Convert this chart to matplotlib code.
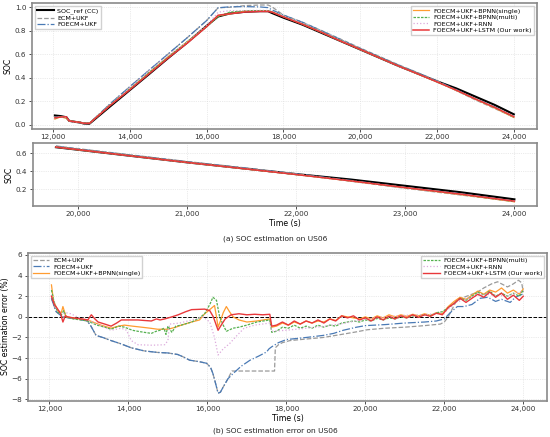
import numpy as np
import matplotlib
matplotlib.use("Agg")
import matplotlib.pyplot as plt
from matplotlib.ticker import FuncFormatter

# ---- SOC curves (a) ----
t_soc = [12050, 12200, 12350, 12420, 12500, 12700, 12800, 12950, 13500, 14000,
         14500, 15000, 15500, 16000, 16300, 16600, 17000, 17400, 17600, 17700,
         18000, 18500, 19000, 19500, 19800, 20000, 20500, 21000, 21500, 22000,
         22500, 23000, 23500, 24000]
soc_ref = [0.08, 0.075, 0.065, 0.035, 0.03, 0.02, 0.012, 0.01, 0.16, 0.295,
           0.43, 0.567, 0.70, 0.84, 0.92, 0.945, 0.96, 0.965, 0.965, 0.95,
           0.91, 0.85, 0.78, 0.71, 0.668, 0.64, 0.57, 0.50, 0.435, 0.37,
           0.31, 0.24, 0.17, 0.09]
soc_ecm = [0.062, 0.071, 0.065, 0.035, 0.031, 0.022, 0.015, 0.014, 0.182, 0.324,
           0.4635, 0.602, 0.741, 0.885, 0.994, 0.998, 1.0125, 1.0175, 1.0175, 1.0025,
           0.9325, 0.8715, 0.7995, 0.7265, 0.6825, 0.6525, 0.581, 0.51, 0.4435, 0.375,
           0.291, 0.212, 0.139, 0.066]
soc_foecm = [0.062, 0.071, 0.065, 0.035, 0.031, 0.022, 0.015, 0.014, 0.182, 0.324,
             0.4635, 0.602, 0.741, 0.885, 0.994, 1.002, 1.004, 1.001, 0.995, 0.977,
             0.932, 0.87, 0.7975, 0.723, 0.678, 0.6485, 0.5775, 0.506, 0.44, 0.372,
             0.30, 0.2215, 0.1535, 0.068]
soc_bpnn_s = [0.049, 0.069, 0.055, 0.035, 0.0305, 0.0215, 0.014, 0.013, 0.17, 0.3035,
              0.441, 0.579, 0.706, 0.835, 0.925, 0.942, 0.965, 0.968, 0.967, 0.959,
              0.918, 0.854, 0.784, 0.71, 0.6695, 0.64, 0.57, 0.499, 0.432, 0.365,
              0.293, 0.218, 0.144, 0.063]
soc_bpnn_m = [0.054, 0.07, 0.059, 0.035, 0.031, 0.0225, 0.015, 0.014, 0.171, 0.306,
              0.4455, 0.576, 0.706, 0.832, 0.919, 0.957, 0.968, 0.969, 0.968, 0.964,
              0.92, 0.859, 0.789, 0.715, 0.6725, 0.643, 0.572, 0.5005, 0.433, 0.364,
              0.294, 0.219, 0.148, 0.064]
soc_rnn = [0.059, 0.067, 0.0615, 0.031, 0.027, 0.02, 0.013, 0.013, 0.172, 0.313,
           0.4575, 0.59, 0.704, 0.843, 0.956, 0.97, 0.97, 0.972, 0.971, 0.964,
           0.923, 0.861, 0.789, 0.716, 0.672, 0.642, 0.57, 0.4985, 0.433, 0.366,
           0.293, 0.218, 0.149, 0.065]
soc_lstm = [0.06, 0.067, 0.069, 0.034, 0.03, 0.0215, 0.014, 0.013, 0.168, 0.298,
            0.4335, 0.568, 0.6945, 0.833, 0.931, 0.943, 0.958, 0.963, 0.9625, 0.958,
            0.917, 0.854, 0.785, 0.71, 0.67, 0.642, 0.57, 0.50, 0.433, 0.365,
            0.295, 0.22, 0.149, 0.07]

# ---- SOC estimation error (b), % ----
t_foecm = [12050, 12120, 12170, 12330, 12500, 12700, 12960, 13050, 13180, 13350,
           13560, 13800, 14070, 14400, 14740, 15000, 15250, 15400, 15550, 15800,
           15980, 16080, 16140, 16210, 16270, 16330, 16400, 16520, 16650, 16850,
           17080, 17300, 17500, 17560, 17630, 17800, 18000, 18500, 18930, 19200,
           19440, 19780, 20000, 20500, 21000, 21500, 21800, 22000, 22150, 22330,
           22500, 22700, 22910, 23100, 23300, 23450, 23670, 23800, 23980]
err_foecm = [1.8, 1.0, 0.5, 0.0, -0.1, -0.2, -0.4, -0.9, -1.8, -2.0,
             -2.3, -2.6, -3.0, -3.3, -3.45, -3.5, -3.65, -3.9, -4.2, -4.35,
             -4.5, -4.9, -5.5, -6.5, -7.4, -7.3, -6.8, -6.0, -5.5, -4.8,
             -4.2, -3.8, -3.4, -3.1, -2.9, -2.5, -2.2, -2.0, -1.8, -1.6,
             -1.3, -1.0, -0.85, -0.75, -0.6, -0.5, -0.4, -0.2, 0.4, 1.0,
             1.0, 1.2, 1.8, 1.9, 1.5, 1.7, 1.4, 1.9, 2.2]

t_ecm = [12050, 12120, 12170, 12330, 12500, 12700, 12960, 13050, 13180, 13350,
         13560, 13800, 14070, 14400, 14740, 15000, 15250, 15400, 15550, 15800,
         15980, 16080, 16140, 16210, 16270, 16330, 16400, 16520, 16620, 17700,
         17720, 17800, 17900, 18090, 18500, 18930, 19400, 19780, 20050, 20500,
         21000, 21500, 21900, 22000, 22100, 22300, 22500, 22840, 23000, 23200,
         23350, 23600, 23750, 23880, 23960, 24000]
err_ecm = [1.8, 1.0, 0.5, 0.0, -0.1, -0.2, -0.4, -0.9, -1.8, -2.0,
           -2.3, -2.6, -3.0, -3.3, -3.45, -3.5, -3.65, -3.9, -4.2, -4.35,
           -4.5, -4.9, -5.5, -6.5, -7.4, -7.3, -6.8, -6.0, -5.25, -5.25,
           -3.0, -2.7, -2.5, -2.3, -2.15, -2.0, -1.7, -1.45, -1.25, -1.1,
           -1.0, -0.85, -0.7, -0.5, 0.0, 1.5, 1.9, 2.4, 2.8, 3.2,
           3.4, 2.9, 3.2, 3.55, 3.3, 2.4]

t_rnn = [12050, 12150, 12300, 12420, 12540, 12700, 12970, 13150, 13320, 13560,
         13820, 13950, 14070, 14240, 14600, 14920, 15000, 15040, 15300, 15600,
         15890, 16060, 16180, 16270, 16400, 16560, 16750, 16930, 17200, 17580,
         17630, 18000, 18500, 19000, 19500, 20000, 20500, 21000, 21500, 22000,
         22300, 22600, 23000, 23300, 23600, 23800, 24000]
err_rnn = [2.1, 1.0, 0.3, 0.4, 0.3, 0.0, -0.3, -0.6, -0.9, -1.3,
           -1.1, -1.3, -2.3, -2.7, -2.75, -2.7, -2.3, -0.7, -0.6, -0.3,
           0.0, -0.5, -2.0, -3.7, -3.1, -2.6, -1.8, -1.1, -0.8, -0.6,
           -1.4, -1.3, -1.1, -0.9, -0.6, -0.2, 0.0, 0.15, 0.2, 0.4,
           1.4, 1.8, 2.2, 2.1, 2.0, 2.3, 2.5]

t_head_lstm = [12050, 12120, 12200, 12280, 12340, 12400, 12460, 12600, 12800, 12970,
               13060, 13150, 13230, 13400, 13560, 13700, 13820, 14000, 14240, 14400,
               14580, 14710, 14800, 14920, 15100, 15260, 15450, 15600, 15930, 16060,
               16150, 16270, 16350, 16450, 16600, 16800, 17000, 17200, 17400, 17580,
               17630]
err_head_lstm = [2.0, 1.2, 0.8, 0.3, -0.5, 0.1, 0.0, -0.1, -0.2, -0.3,
                 0.2, -0.2, -0.5, -0.7, -0.9, -0.6, -0.3, -0.3, -0.3, -0.35,
                 -0.4, -0.2, -0.3, -0.2, 0.0, 0.2, 0.5, 0.7, 0.75, 0.6,
                 0.0, -1.3, -0.8, -0.2, 0.2, 0.3, 0.2, 0.25, 0.2, 0.25,
                 -0.9]

t_head_bpnn_s = [12050, 12100, 12210, 12300, 12340, 12420, 12600, 12800, 12970, 13100,
                 13300, 13560, 13750, 13900, 14100, 14330, 14550, 14740, 15000, 15200,
                 15340, 15600, 15800, 15930, 16060, 16180, 16230, 16270, 16330, 16400,
                 16480, 16560, 16650, 16800, 17000, 17250, 17580, 17630]
err_head_bpnn_s = [3.1, 1.6, 0.6, 0.4, 1.0, 0.0, -0.1, -0.2, -0.3, -0.5,
                   -0.8, -1.1, -0.9, -0.8, -0.9, -1.0, -1.1, -1.2, -1.2, -1.0,
                   -0.8, -0.5, -0.3, 0.3, 0.7, 1.1, 0.0, -1.0, -0.4, 0.4,
                   1.0, 0.5, 0.0, -0.3, -0.5, -0.4, -0.2, -1.0]

t_head_bpnn_m = [12050, 12120, 12200, 12300, 12360, 12420, 12600, 12800, 12970, 13200,
                 13400, 13560, 13750, 13900, 14100, 14240, 14400, 14580, 14700, 14800,
                 14900, 14950, 15000, 15100, 15200, 15340, 15600, 15800, 15930, 16060,
                 16140, 16230, 16310, 16400, 16480, 16650, 16800, 17000, 17250, 17580,
                 17630]
err_head_bpnn_m = [2.6, 1.4, 0.5, 0.2, 0.6, 0.0, -0.2, -0.3, -0.4, -0.8,
                   -1.0, -1.2, -0.9, -1.0, -1.3, -1.4, -1.5, -1.6, -1.4, -1.3,
                   -1.1, -1.7, -0.9, -1.5, -0.9, -0.8, -0.5, -0.1, 0.3, 1.2,
                   1.9, 1.6, 0.0, -0.8, -1.4, -1.1, -1.0, -0.8, -0.5, -0.3,
                   -1.5]

t_tail = [17750, 17900, 18050, 18200, 18350, 18500, 18650, 18800, 18950, 19100,
          19250, 19400, 19550, 19700, 19850, 20000, 20150, 20300, 20450, 20600,
          20750, 20900, 21050, 21200, 21350, 21500, 21650, 21800, 21950, 22100,
          22250, 22400, 22550, 22700, 22850, 23000, 23150, 23300, 23450, 23600,
          23750, 23900, 24000]
err_tail_lstm = [-0.8, -0.5, -0.8, -0.4, -0.7, -0.4, -0.6, -0.3, -0.6, -0.2,
                 -0.4, 0.1, -0.1, 0.1, -0.3, -0.1, -0.4, 0.0, -0.3, 0.05,
                 -0.2, 0.1, -0.1, 0.2, -0.05, 0.2, 0.05, 0.35, 0.2, 0.9,
                 1.3, 1.8, 1.4, 1.8, 2.2, 1.9, 2.4, 1.9, 2.3, 1.7,
                 2.1, 1.6, 2.0]
err_tail_bpnn_s = [-0.9, -0.6, -0.8, -0.5, -0.7, -0.4, -0.6, -0.4, -0.5, -0.2,
                   -0.35, 0.1, 0.0, -0.1, -0.2, 0.0, -0.2, 0.1, -0.1, 0.2,
                   0.0, 0.2, 0.05, 0.25, 0.1, 0.3, 0.15, 0.4, 0.3, 1.0,
                   1.5, 1.9, 1.7, 2.1, 2.5, 2.2, 2.6, 2.4, 2.8, 2.3,
                   2.6, 2.2, 2.7]
err_tail_bpnn_m = [-1.4, -1.0, -1.1, -0.8, -1.1, -0.9, -1.1, -0.8, -1.0, -0.8,
                   -0.9, -0.6, -0.5, -0.4, -0.5, -0.3, -0.4, -0.15, -0.3, -0.1,
                   -0.2, 0.0, -0.1, 0.1, 0.0, 0.2, 0.1, 0.4, 0.5, 0.9,
                   1.3, 1.8, 1.6, 2.0, 2.4, 2.1, 2.5, 2.0, 2.3, 2.0,
                   2.3, 2.0, 2.6]

c_ref = "black"
c_ecm = "#9a9a9a"
c_foecm = "#4a7ab5"
c_bs = "#ff9c30"
c_bm = "#55b04f"
c_rnn = "#dcaadc"
c_lstm = "#e8383b"
spine_c = "#8a8a8a"

plt.rcParams['font.family'] = ['DejaVu Sans']
fig = plt.figure(figsize=(5.5, 4.37), dpi=100)
ax1 = fig.add_axes([0.058, 0.705, 0.918, 0.288])
ax2 = fig.add_axes([0.060, 0.529, 0.917, 0.143])
ax3 = fig.add_axes([0.050, 0.083, 0.945, 0.339])

thousands = FuncFormatter(lambda v, p: f"{v:,.0f}")


def style(ax):
    for s in ax.spines.values():
        s.set_color(spine_c)
        s.set_linewidth(1.2)
    ax.tick_params(labelsize=5.2, length=2.5, width=0.6, colors="#333333", pad=1.5)
    ax.grid(True, color="#d8d8d8", lw=0.5, ls=":")
    ax.set_axisbelow(True)
    ax.xaxis.set_major_formatter(thousands)


def soc_lines(ax, i0=0):
    ax.plot(t_soc[i0:], soc_ref[i0:], color=c_ref, lw=1.5, label="SOC_ref (CC)")
    ax.plot(t_soc[i0:], soc_ecm[i0:], color=c_ecm, lw=0.9, ls="--", label="ECM+UKF")
    ax.plot(t_soc[i0:], soc_foecm[i0:], color=c_foecm, lw=0.9, ls="-.", label="FOECM+UKF")
    ax.plot(t_soc[i0:], soc_bpnn_s[i0:], color=c_bs, lw=0.9, label="FOECM+UKF+BPNN(single)")
    ax.plot(t_soc[i0:], soc_bpnn_m[i0:], color=c_bm, lw=0.9, ls=(0, (2, 1)), label="FOECM+UKF+BPNN(multi)")
    ax.plot(t_soc[i0:], soc_rnn[i0:], color=c_rnn, lw=0.9, ls=":", label="FOECM+UKF+RNN")
    ax.plot(t_soc[i0:], soc_lstm[i0:], color=c_lstm, lw=1.1, label="FOECM+UKF+LSTM (Our work)")


# (a) full range
soc_lines(ax1)
style(ax1)
ax1.set_xlim(11452, 24598)
ax1.set_ylim(-0.034, 1.034)
ax1.set_xticks([12000, 14000, 16000, 18000, 20000, 22000, 24000])
ax1.set_yticks([0.0, 0.2, 0.4, 0.6, 0.8, 1.0])
ax1.set_ylabel("SOC", fontsize=5.6, labelpad=2)
h, l = ax1.get_legend_handles_labels()
leg_kw = dict(fontsize=4.6, framealpha=0.9, edgecolor="#cccccc", handlelength=2.6,
              borderpad=0.3, labelspacing=0.15, handletextpad=0.6, fancybox=False)
lg1 = ax1.legend(h[:3], l[:3], loc="upper left", **leg_kw)
ax1.add_artist(lg1)
ax1.legend(h[3:], l[3:], loc="upper right", **leg_kw)

# (a) zoomed discharge
i0 = t_soc.index(19800)
soc_lines(ax2, i0)
style(ax2)
ax2.set_xlim(19590, 24210)
ax2.set_ylim(0.018, 0.711)
ax2.set_xticks([20000, 21000, 22000, 23000, 24000])
ax2.set_yticks([0.2, 0.4, 0.6])
ax2.set_ylabel("SOC", fontsize=5.6, labelpad=2)
ax2.set_xlabel("Time (s)", fontsize=5.6, labelpad=1)
fig.text(0.5, 1 - 239 / 437, "(a) SOC estimation on US06", ha="center", va="center",
         fontsize=5.4, color="#222222")

# (b) errors
ax3.axhline(0, color="black", lw=0.7, ls="--")
ax3.plot(t_ecm, err_ecm, color=c_ecm, lw=0.9, ls="--", label="ECM+UKF")
ax3.plot(t_foecm, err_foecm, color=c_foecm, lw=0.9, ls="-.", label="FOECM+UKF")
ax3.plot(t_head_bpnn_s + t_tail, err_head_bpnn_s + err_tail_bpnn_s, color=c_bs, lw=0.9,
         label="FOECM+UKF+BPNN(single)")
ax3.plot(t_head_bpnn_m + t_tail, err_head_bpnn_m + err_tail_bpnn_m, color=c_bm, lw=0.9,
         ls=(0, (2, 1)), label="FOECM+UKF+BPNN(multi)")
ax3.plot(t_rnn, err_rnn, color=c_rnn, lw=0.9, ls=":", label="FOECM+UKF+RNN")
ax3.plot(t_head_lstm + t_tail, err_head_lstm + err_tail_lstm, color=c_lstm, lw=1.0,
         label="FOECM+UKF+LSTM (Our work)")
style(ax3)
ax3.set_xlim(11443, 24608)
ax3.set_ylim(-8.13, 6.23)
ax3.set_xticks([12000, 14000, 16000, 18000, 20000, 22000, 24000])
ax3.set_yticks([-8, -6, -4, -2, 0, 2, 4, 6])
ax3.set_ylabel("SOC estimation error (%)", fontsize=5.6, labelpad=1)
ax3.set_xlabel("Time (s)", fontsize=5.6, labelpad=1)
h, l = ax3.get_legend_handles_labels()
lg3 = ax3.legend(h[:3], l[:3], loc="upper left", **leg_kw)
ax3.add_artist(lg3)
ax3.legend(h[3:], l[3:], loc="upper right", **leg_kw)
fig.text(0.5, 1 - 431 / 437, "(b) SOC estimation error on US06", ha="center", va="center",
         fontsize=5.4, color="#222222")

fig.savefig("out.png", dpi=100)
